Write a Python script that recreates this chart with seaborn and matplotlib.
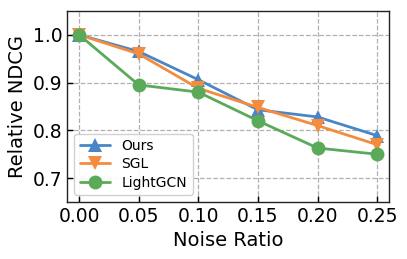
import pandas as pd
import seaborn as sns
import matplotlib
matplotlib.use("Agg")
import matplotlib.pyplot as plt

noise = [0.00, 0.05, 0.10, 0.15, 0.20, 0.25]
ours = [1.000, 0.965, 0.906, 0.843, 0.828, 0.789]
sgl = [1.000, 0.960, 0.888, 0.848, 0.810, 0.770]
lightgcn = [1.000, 0.895, 0.880, 0.820, 0.763, 0.750]
methods = ["Ours", "SGL", "LightGCN"]

df = pd.DataFrame({
    "noise": noise * 3,
    "value": ours + sgl + lightgcn,
    "method": [m for m in methods for _ in noise],
})

sns.set_style("white", {"xtick.bottom": True, "ytick.left": True,
                        "text.color": "black", "axes.labelcolor": "black",
                        "xtick.color": "black", "ytick.color": "black"})
plt.rcParams["font.family"] = ["DejaVu Sans"]

fig = plt.figure(figsize=(4.07, 2.59), dpi=100)
ax = fig.add_axes([0.165, 0.22, 0.791, 0.738])

colors = ["#4a86c6", "#f58b3c", "#5aaa5a"]
markers = ["^", "v", "o"]
sns.lineplot(data=df, x="noise", y="value", hue="method", style="method",
             markers=markers, dashes=False, palette=colors, markersize=10,
             linewidth=2, markeredgewidth=0, ax=ax)

ax.set_xlim(-0.01, 0.26)
ax.set_ylim(0.65, 1.05)
ax.set_xticks(noise)
ax.set_xticklabels([f"{v:.2f}" for v in noise])
ax.set_yticks([0.7, 0.8, 0.9, 1.0])
ax.tick_params(direction="in", labelsize=13.5, length=4, width=1, colors="black")
ax.grid(True, linestyle="--", color="#b0b0b0", linewidth=0.9)
for s in ax.spines.values():
    s.set_color("#222222")
    s.set_linewidth(1.0)
ax.set_xlabel("Noise Ratio", fontsize=14, color="black")
ax.set_ylabel("Relative NDCG", fontsize=14, color="black")
ax.legend(loc="lower left", fontsize=10, handlelength=2.2, borderpad=0.4,
          labelspacing=0.3, framealpha=0.9)

fig.savefig("out.png", dpi=100)
